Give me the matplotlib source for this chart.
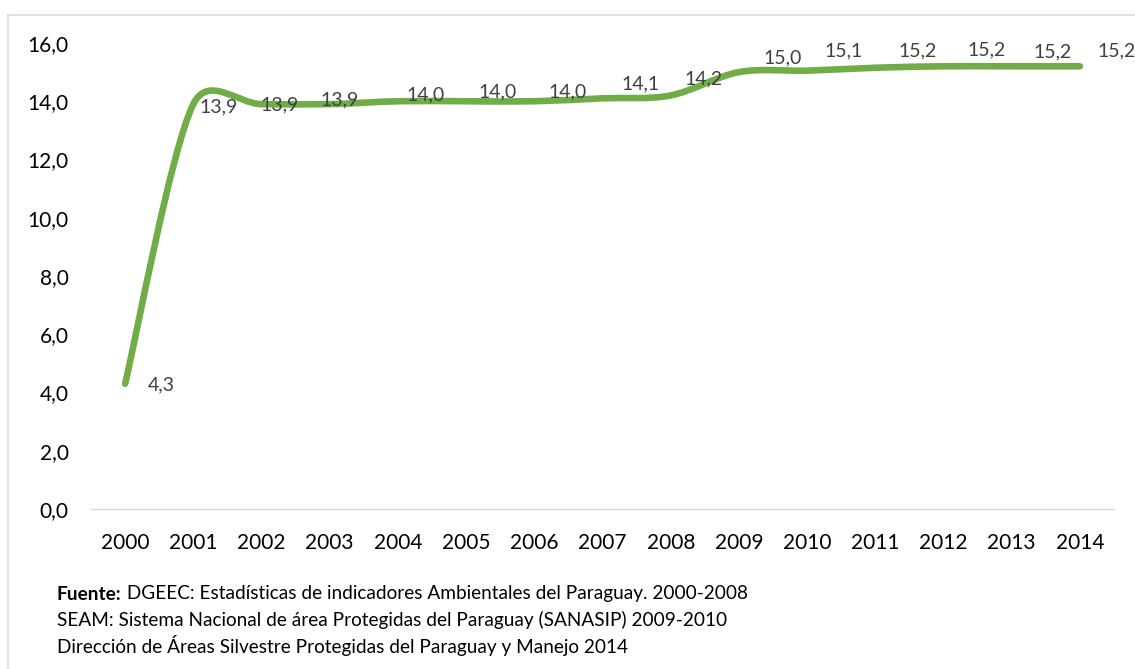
import numpy as np
import matplotlib
matplotlib.use("Agg")
import matplotlib.pyplot as plt
from matplotlib.lines import Line2D
from matplotlib.path import Path
from matplotlib.patches import PathPatch
from matplotlib.transforms import IdentityTransform

# ---- data ----
years = [2000, 2001, 2002, 2003, 2004, 2005, 2006, 2007, 2008,
         2009, 2010, 2011, 2012, 2013, 2014]
values = [4.3, 13.9, 13.9, 13.9, 14.0, 14.0, 14.0, 14.1, 14.2,
          15.0, 15.05, 15.15, 15.2, 15.2, 15.2]
y_ticks = [0, 2, 4, 6, 8, 10, 12, 14, 16]
footnote_bold = "Fuente:"
footnote_lines = [
    " DGEEC: Estadísticas de indicadores Ambientales del Paraguay. 2000-2008",
    "SEAM: Sistema Nacional de área Protegidas del Paraguay (SANASIP) 2009-2010",
    "Dirección de Áreas Silvestre Protegidas del Paraguay y Manejo 2014",
]

# ---- style (label offsets in pixels: dx right, dy up) ----
label_dx = [36, 25, 18, 10, 28, 31, 33, 38, 33, 44, 36, 42, 43, 41, 37]
label_dy = [-1, -2.5, -1, 4, 6, 9, 9, 14.5, 16.5, 14, 19.5, 16.5, 16.5, 14, 15]
LINE_COLOR = "#70AD47"
TEXT_COLOR = "#000000"
LABEL_COLOR = "#404040"
FONT = "Lato"

W, H = 1135, 669
fig = plt.figure(figsize=(W / 100, H / 100), dpi=100)
fig.patch.set_facecolor("white")

ax_left, ax_right, ax_top, ax_bottom = 91, 1114, 43, 509
ax = fig.add_axes([ax_left / W, 1 - ax_bottom / H,
                   (ax_right - ax_left) / W, (ax_bottom - ax_top) / H])
ax.set_xlim(1999.5, 2014.5)
ax.set_ylim(0, 16)
ax.set_facecolor("none")
for s in ["top", "right", "left"]:
    ax.spines[s].set_visible(False)
ax.spines["bottom"].set_color("#D9D9D9")
ax.spines["bottom"].set_linewidth(1.0)
ax.set_yticks(y_ticks)
ax.set_yticklabels([f"{v:.1f}".replace(".", ",") for v in y_ticks],
                   fontsize=15, fontfamily=FONT, color=TEXT_COLOR)
ax.set_xticks(years)
ax.set_xticklabels([str(y) for y in years], fontsize=15,
                   fontfamily=FONT, color=TEXT_COLOR)
ax.tick_params(axis="y", length=0, pad=16)
ax.tick_params(axis="x", length=0, pad=17)

# ---- Excel-like smoothed line (Bezier in display space) ----
pts = ax.transData.transform(np.column_stack([years, values]))
N = len(pts)
verts = [pts[0]]
codes = [Path.MOVETO]
for i in range(N - 1):
    p0 = pts[i - 1] if i > 0 else pts[i]
    p1 = pts[i]
    p2 = pts[i + 1]
    p3 = pts[i + 2] if i + 2 < N else pts[i + 1]
    d02 = np.hypot(*(p2 - p0))
    d12 = np.hypot(*(p2 - p1))
    d13 = np.hypot(*(p3 - p1))
    f1 = f2 = 1 / 6
    if d02 > 0 and d02 * f1 > d12 / 2:
        f1 = d12 / (2 * d02)
    if d13 > 0 and d13 * f2 > d12 / 2:
        f2 = d12 / (2 * d13)
    c1 = p1 + (p2 - p0) * f1
    c2 = p2 - (p3 - p1) * f2
    verts += [c1, c2, p2]
    codes += [Path.CURVE4] * 3
path = Path(np.array(verts), codes)
patch = PathPatch(path, facecolor="none",
                  edgecolor=LINE_COLOR, lw=4.75, capstyle="round",
                  joinstyle="round", clip_on=False, zorder=2)
ax.add_patch(patch)
patch.set_transform(IdentityTransform())

# ---- data labels ----
for i, (x, v) in enumerate(zip(years, values)):
    ax.annotate(f"{v:.1f}".replace(".", ","), xy=(x, v),
                xytext=(label_dx[i] * 0.72, label_dy[i] * 0.72),
                textcoords="offset points", ha="center", va="center",
                fontsize=14, fontfamily=FONT, color=LABEL_COLOR,
                annotation_clip=False, zorder=5)

# ---- chart border ----
bx, by = 8 / W, 1 - 15 / H
fig.add_artist(Line2D([bx, bx], [by, 0], transform=fig.transFigure,
                      color="#D9D9D9", lw=1.2))
fig.add_artist(Line2D([bx, 1], [by, by], transform=fig.transFigure,
                      color="#D9D9D9", lw=1.2))

# ---- footnote ----
renderer = fig.canvas.get_renderer()
fx = 57 / W
line_y = [594, 620, 646]
FS = 13.7
tb = fig.text(fx, 1 - line_y[0] / H, footnote_bold, fontsize=FS,
              fontweight="bold", fontfamily=FONT, va="center", ha="left")
bb = tb.get_window_extent(renderer)
fig.text(bb.x1 / W, 1 - line_y[0] / H, footnote_lines[0], fontsize=FS,
         fontfamily=FONT, va="center", ha="left")
for yy, txt in zip(line_y[1:], footnote_lines[1:]):
    fig.text(fx, 1 - yy / H, txt, fontsize=FS, fontfamily=FONT,
             va="center", ha="left")

fig.savefig("out.png", dpi=100)
